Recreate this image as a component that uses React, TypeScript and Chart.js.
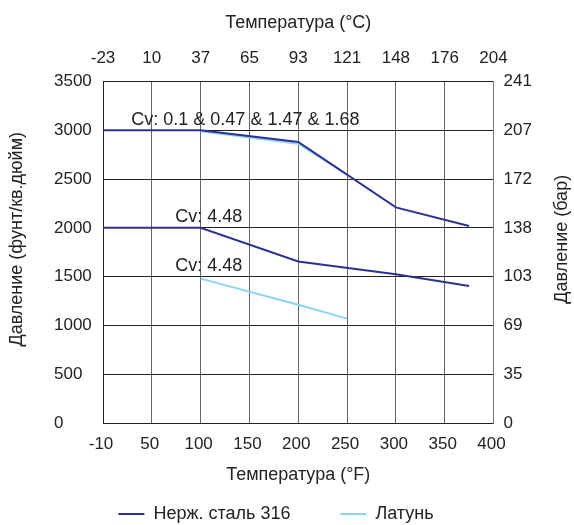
import { useEffect, useRef } from 'react';
import { Chart, registerables } from 'chart.js';

Chart.register(...registerables);

// Tick labels (bottom °F, top °C, left psi, right bar)
const fTickLabels = ['-10', '50', '100', '150', '200', '250', '300', '350', '400'];
const cTickLabels = ['-23', '10', '37', '65', '93', '121', '148', '176', '204'];
const psiTickLabels = ['0', '500', '1000', '1500', '2000', '2500', '3000', '3500'];
const barTickLabels = ['0', '35', '69', '103', '138', '172', '207', '241'];

// Series (x in °F along the axis; 0 is the axis start labelled -10 °F)
const ssHighTemp = [0, 100, 200, 300, 375];
const ssHighPsi = [3000, 3000, 2880, 2210, 2020];
const ssLowTemp = [0, 100, 200, 300, 375];
const ssLowPsi = [2000, 2000, 1655, 1525, 1405];
const brassHighTemp = [100, 200, 250];
const brassHighPsi = [2990, 2862, 2545];
const brassLowTemp = [100, 200, 250];
const brassLowPsi = [1480, 1212, 1070];

// Cv annotations
const cvLabels = ['Cv: 0.1 & 0.47 & 1.47 & 1.68', 'Cv: 4.48', 'Cv: 4.48'];
const cvTemp = [29, 74, 74];
const cvPsi = [3100, 2110, 1605];

const seriesNames = ['Нерж. сталь 316', 'Латунь'];
const leftTitle = 'Давление (фунт/кв.дюйм)';
const rightTitle = 'Давление (бар)';
const bottomTitle = 'Температура (°F)';
const topTitle = 'Температура (°C)';

const FONT = "'Liberation Sans', Arial, Helvetica, sans-serif";
const TEXT = '#222222';
const NAVY = '#2e3192';
const SKY = '#8ad4f4';

const pts = (xs: number[], ys: number[]) => xs.map((x, i) => ({ x, y: ys[i] }));

const extraText = {
  id: 'extraText',
  afterDatasetsDraw(chart: any) {
    const { ctx, chartArea, scales } = chart;
    ctx.save();
    ctx.fillStyle = TEXT;
    ctx.font = `18px ${FONT}`;
    ctx.textAlign = 'left';
    ctx.textBaseline = 'middle';
    cvLabels.forEach((t, i) => {
      ctx.fillText(t, scales.x.getPixelForValue(cvTemp[i]), scales.y.getPixelForValue(cvPsi[i]));
    });
    const cy = (chartArea.top + chartArea.bottom) / 2 - 13;
    ctx.textAlign = 'center';
    ctx.save();
    ctx.translate(17.5, cy);
    ctx.rotate(-Math.PI / 2);
    ctx.fillText(leftTitle, 0, 0);
    ctx.restore();
    ctx.save();
    ctx.translate(chart.width - 11.5, cy);
    ctx.rotate(-Math.PI / 2);
    ctx.fillText(rightTitle, 0, 0);
    ctx.restore();
    ctx.restore();
  },
};

export default function App() {
  const ref = useRef<HTMLCanvasElement>(null);
  useEffect(() => {
    if (!ref.current) return;
    const chart = new Chart(ref.current, {
      type: 'line',
      data: {
        datasets: [
          { label: seriesNames[0], data: pts(ssHighTemp, ssHighPsi), borderColor: NAVY, backgroundColor: NAVY },
          { label: seriesNames[0], data: pts(ssLowTemp, ssLowPsi), borderColor: NAVY, backgroundColor: NAVY },
          { label: seriesNames[1], data: pts(brassHighTemp, brassHighPsi), borderColor: SKY, backgroundColor: SKY },
          { label: seriesNames[1], data: pts(brassLowTemp, brassLowPsi), borderColor: SKY, backgroundColor: SKY },
        ].map((d) => ({ ...d, borderWidth: 2, pointRadius: 0, pointHoverRadius: 0, tension: 0, xAxisID: 'x', yAxisID: 'y' })),
      },
      options: {
        responsive: false,
        animation: false,
        layout: { padding: { left: 0, right: 22, top: 0, bottom: -8 } },
        scales: {
          x: {
            type: 'linear',
            position: 'bottom',
            min: 0,
            max: 400,
            ticks: {
              stepSize: 50,
              autoSkip: false,
              maxRotation: 0,
              padding: 11,
              labelOffset: -2,
              color: TEXT,
              font: { family: FONT, size: 17 },
              callback: (_v: any, i: number) => fTickLabels[i],
            },
            grid: { color: '#666666', lineWidth: 1, drawTicks: false },
            border: { display: true, color: '#222222', width: 1 },
            title: {
              display: true,
              text: bottomTitle,
              color: TEXT,
              font: { family: FONT, size: 18 },
              padding: { top: 0, bottom: -31 },
            },
            afterFit: (s: any) => { s.height = 32; },
          },
          x2: {
            type: 'linear',
            position: 'top',
            min: 0,
            max: 400,
            ticks: {
              stepSize: 50,
              autoSkip: false,
              maxRotation: 0,
              padding: 13,
              color: TEXT,
              font: { family: FONT, size: 17 },
              callback: (_v: any, i: number) => cTickLabels[i],
            },
            grid: { display: false, drawTicks: false },
            border: { display: true, color: '#222222', width: 1 },
            title: {
              display: true,
              text: topTitle,
              color: TEXT,
              font: { family: FONT, size: 18 },
              padding: { top: 12, bottom: 0 },
            },
            afterFit: (s: any) => { s.height = 81.5; },
          },
          y: {
            type: 'linear',
            position: 'left',
            min: 0,
            max: 3500,
            ticks: {
              stepSize: 500,
              mirror: true,
              crossAlign: 'near',
              padding: -49,
              color: TEXT,
              font: { family: FONT, size: 17 },
              callback: (_v: any, i: number) => psiTickLabels[i],
            },
            grid: { color: '#222222', lineWidth: 1, drawTicks: false },
            border: { display: true, color: '#222222', width: 1 },
            afterFit: (s: any) => { s.width = 103; },
          },
          y2: {
            type: 'linear',
            position: 'right',
            min: 0,
            max: 3500,
            ticks: {
              stepSize: 500,
              padding: 10,
              color: TEXT,
              font: { family: FONT, size: 17 },
              callback: (_v: any, i: number) => barTickLabels[i],
            },
            grid: { display: false, drawTicks: false },
            border: { display: true, color: '#777777', width: 1 },
            afterFit: (s: any) => { s.width = 58.5; },
          },
        },
        plugins: {
          legend: {
            position: 'bottom',
            labels: {
              usePointStyle: true,
              pointStyle: 'line',
              pointStyleWidth: 26,
              padding: 50,
              color: TEXT,
              font: { family: FONT, size: 18 },
              filter: (item: any) => item.datasetIndex === 0 || item.datasetIndex === 2,
            },
          },
          tooltip: { enabled: false },
        },
      } as any,
      plugins: [extraText],
    });
    return () => chart.destroy();
  }, []);
  return (
    <div style={{ position: 'fixed', left: 0, top: 0, width: 574, height: 525, background: '#fff' }}>
      <canvas ref={ref} width={574} height={525} style={{ display: 'block' }} />
    </div>
  );
}
